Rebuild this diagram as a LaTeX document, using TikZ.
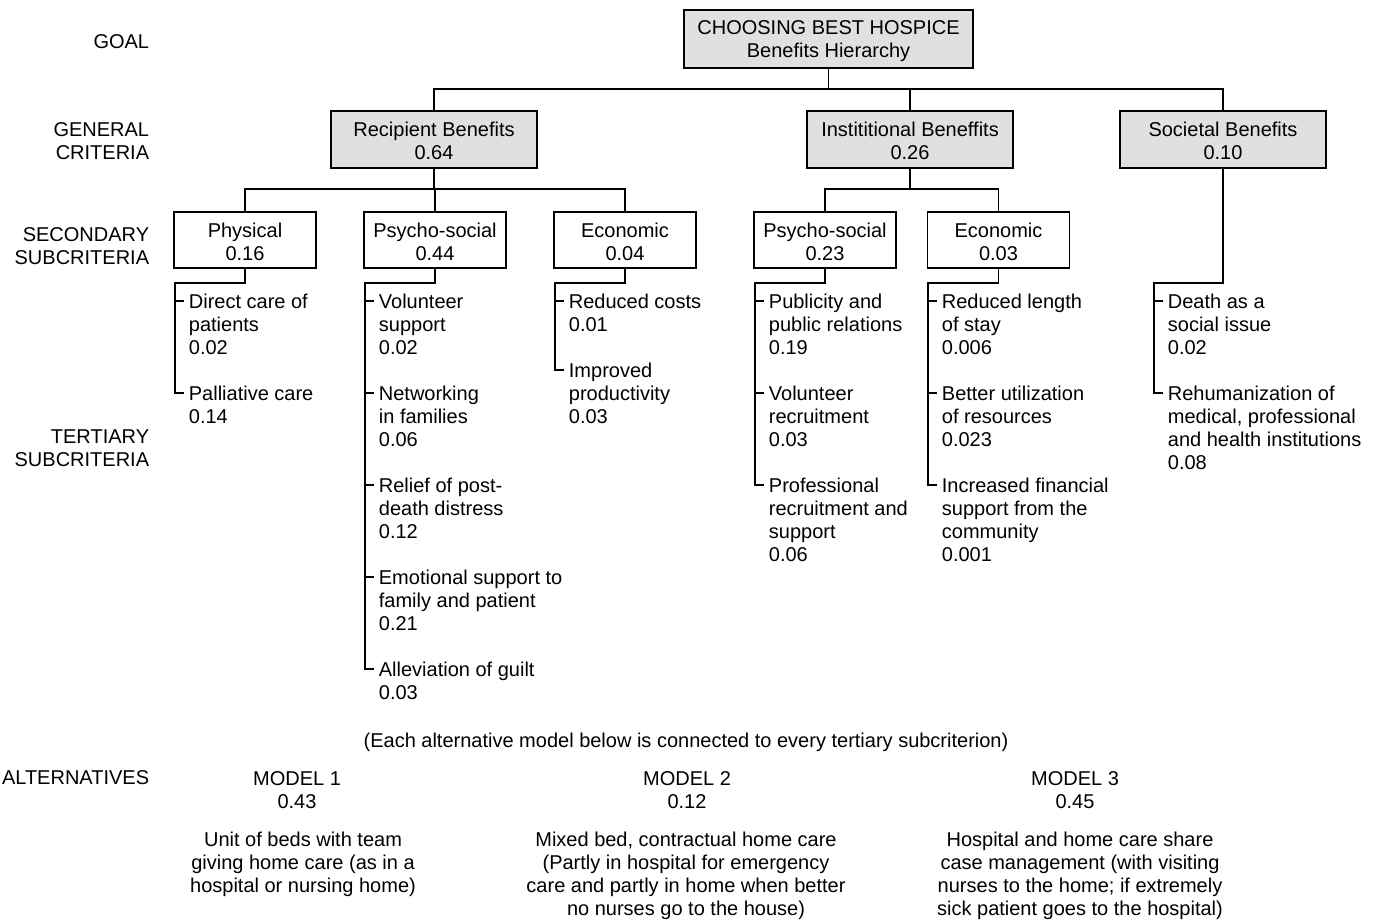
\documentclass[tikz,border=0pt]{standalone}
\usepackage{fontspec}
\setmainfont{Liberation Sans}
\usetikzlibrary{calc}
\definecolor{boxgray}{gray}{0.88}
\newcommand{\mystrut}{\rule[-0.67pt]{0pt}{11.5pt}}
\newcommand{\boxstrut}{\rule{0pt}{9.3pt}}
\begin{document}
\begin{tikzpicture}[x=0.5pt, y=-0.5pt, line width=0.9pt,
        font=\fontsize{10}{11.5}\selectfont,
        txt/.style={inner sep=0pt, execute at begin node=\mystrut, execute at end node=\mystrut},
        goalbox/.style={txt, draw, fill=boxgray, align=center, minimum width=144.5pt, minimum height=29pt},
        crit/.style={txt, draw, fill=boxgray, align=center, minimum width=103pt, minimum height=28.5pt},
        sub/.style={txt, draw, fill=white, align=center, minimum width=71pt, minimum height=28pt},
        leaf/.style={txt, anchor=north west, align=left},
        level/.style={txt, anchor=east, align=right},
        model/.style={txt, align=center}
    ]
        \useasboundingbox (0,0) rectangle (1384,920);

        % Level labels
        \node[level] (lgoal) at (150,38.5) {GOAL};
        \node[level] (lgen) at (150,142) {GENERAL\\CRITERIA};
        \node[level] (lsec) at (150,246.5) {SECONDARY\\SUBCRITERIA};
        \node[level] (lter) at (150,449) {TERTIARY\\SUBCRITERIA};
        \node[level] (lalt) at (150,774.5) {ALTERNATIVES};

        % Goal
        \node[goalbox] (goal) at (828.5,39) {\boxstrut CHOOSING BEST HOSPICE\\Benefits Hierarchy};

        % General criteria
        \node[crit] (rec) at (434,139.5) {\boxstrut Recipient Benefits\\0.64};
        \node[crit] (inst) at (910,139.5) {\boxstrut Instititional Beneffits\\0.26};
        \node[crit] (soc) at (1223,139.5) {\boxstrut Societal Benefits\\0.10};

        % Secondary subcriteria
        \node[sub] (phys) at (245,240) {\boxstrut Physical\\0.16};
        \node[sub] (rpsy) at (435,240) {\boxstrut Psycho-social\\0.44};
        \node[sub] (reco) at (625,240) {\boxstrut Economic\\0.04};
        \node[sub] (ipsy) at (825,240) {\boxstrut Psycho-social\\0.23};
        \node[sub] (ieco) at (998.5,240) {\boxstrut Economic\\0.03};

        % Tertiary subcriteria
        \node[leaf] (ph1) at (188,293.5) {Direct care of\\patients\\0.02};
        \node[leaf] (ph2) at (188,385.5) {Palliative care\\0.14};

        \node[leaf] (rp1) at (378,293.5) {Volunteer\\support\\0.02};
        \node[leaf] (rp2) at (378,385.5) {Networking\\in families\\0.06};
        \node[leaf] (rp3) at (378,477.5) {Relief of post-\\death distress\\0.12};
        \node[leaf] (rp4) at (378,569.5) {Emotional support to\\family and patient\\0.21};
        \node[leaf] (rp5) at (378,661.5) {Alleviation of guilt\\0.03};

        \node[leaf] (re1) at (568,293.5) {Reduced costs\\0.01};
        \node[leaf] (re2) at (568,362.5) {Improved\\productivity\\0.03};

        \node[leaf] (ip1) at (768,293.5) {Publicity and\\public relations\\0.19};
        \node[leaf] (ip2) at (768,385.5) {Volunteer\\recruitment\\0.03};
        \node[leaf] (ip3) at (768,477.5) {Professional\\recruitment and\\support\\0.06};

        \node[leaf] (ie1) at (941,293.5) {Reduced length\\of stay\\0.006};
        \node[leaf] (ie2) at (941,385.5) {Better utilization\\of resources\\0.023};
        \node[leaf] (ie3) at (941,477.5) {Increased financial\\support from the\\community\\0.001};

        \node[leaf] (so1) at (1167,293.5) {Death as a\\social issue\\0.02};
        \node[leaf] (so2) at (1167,385.5) {Rehumanization of\\medical, professional\\and health institutions\\0.08};

        % Alternatives
        \node[model] (note) at (686,738.5) {(Each alternative model below is connected to every tertiary subcriterion)};
        \node[model] (m1) at (297,790.5) {MODEL 1\\0.43};
        \node[model] (m2) at (687,790.5) {MODEL 2\\0.12};
        \node[model] (m3) at (1075,790.5) {MODEL 3\\0.45};
        \node[model, anchor=north] (d1) at (303,831.5) {Unit of beds with team\\giving home care (as in a\\hospital or nursing home)};
        \node[model, anchor=north] (d2) at (686,831.5) {Mixed bed, contractual home care\\(Partly in hospital for emergency\\care and partly in home when better\\no nurses go to the house)};
        \node[model, anchor=north] (d3) at (1080,831.5) {Hospital and home care share\\case management (with visiting\\nurses to the home; if extremely\\sick patient goes to the hospital)};

        % Goal to criteria
        \draw (goal.south) -- ++(0,20) -| (rec.north);
        \draw (goal.south) -- ++(0,20) -| (inst.north);
        \draw (goal.south) -- ++(0,20) -| (soc.north);

        % Criteria to subcriteria
        \draw (rec.south) -- ++(0,20) -| (phys.north);
        \draw (rec.south) -- ++(0,20) -| (rpsy.north);
        \draw (rec.south) -- ++(0,20) -| (reco.north);
        \draw (inst.south) -- ++(0,20) -| (ipsy.north);
        \draw (inst.south) -- ++(0,20) -| (ieco.north);

        % Subcriteria to tertiary
        \draw (phys.south) -- ++(0,14) -| ($(ph2.north west)+(-13,7.5)$) -- ++(9,0);
        \draw (rpsy.south) -- ++(0,14) -| ($(rp5.north west)+(-13,7.5)$) -- ++(9,0);
        \draw (reco.south) -- ++(0,14) -| ($(re2.north west)+(-13,7.5)$) -- ++(9,0);
        \draw (ipsy.south) -- ++(0,14) -| ($(ip3.north west)+(-13,7.5)$) -- ++(9,0);
        \draw (ieco.south) -- ++(0,14) -| ($(ie3.north west)+(-13,7.5)$) -- ++(9,0);
        \draw (soc.south) -- ++(0,114) -| ($(so2.north west)+(-13,7.5)$) -- ++(9,0);
        \foreach \n in {ph1,rp1,rp2,rp3,rp4,re1,ip1,ip2,ie1,ie2,so1}
            \draw ($(\n.north west)+(-13,7.5)$) -- ++(9,0);
    \end{tikzpicture}
\end{document}
